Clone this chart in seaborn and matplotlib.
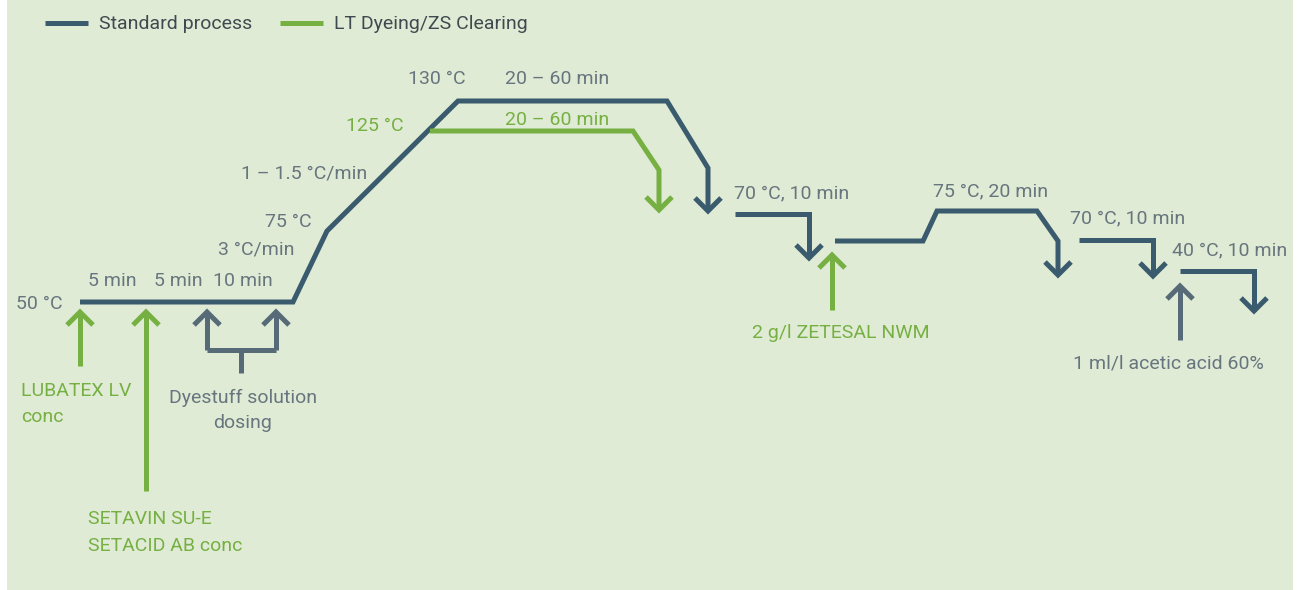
import numpy as np
import pandas as pd
import seaborn as sns
import matplotlib.pyplot as plt
from matplotlib.patches import Rectangle

# colours
BLUE = "#3a5b6e"
GREEN = "#76b043"
GREY = "#566b77"
TEXT = "#67757e"
BG = "#e0ebd5"

# temperature profile, standard process (pixel coords of the drawing)
std_x = [80, 293, 327, 458, 667, 708, 708]
std_y = [302, 302, 231, 101, 101, 168, 211]
# LT dyeing branch
lt_x = [430, 633, 659, 659]
lt_y = [131, 131, 170, 210]
# clearing / rinsing steps
rinse1_x = [735, 809, 809]
rinse1_y = [214, 214, 258]
clear_x = [835, 923, 937, 1037, 1058, 1058]
clear_y = [241, 241, 211, 211, 241, 275]
rinse2_x = [1079, 1153, 1153]
rinse2_y = [240, 240, 276]
neutral_x = [1180, 1254, 1254]
neutral_y = [271, 271, 311]

# dosing arrows: x, tip y, tail y, colour
dosing_x = [80, 146, 207, 276, 832, 1180]
dosing_tip = [312, 312, 312, 312, 255, 286]
dosing_tail = [366, 491, 350, 350, 310, 340]
dosing_col = [GREEN, GREEN, GREY, GREY, GREEN, GREY]

# labels: text, x, baseline y, colour, alignment
labels = [
    ("50 °C", 63, 309, TEXT, "right"),
    ("5 min", 88, 286, TEXT, "left"),
    ("5 min", 154, 286, TEXT, "left"),
    ("10 min", 213, 286, TEXT, "left"),
    ("3 °C/min", 218, 255, TEXT, "left"),
    ("75 °C", 265, 227, TEXT, "left"),
    ("1 – 1.5 °C/min", 241, 178, TEXT, "left"),
    ("130 °C", 408, 84, TEXT, "left"),
    ("20 – 60 min", 505, 84, TEXT, "left"),
    ("125 °C", 346, 131, GREEN, "left"),
    ("20 – 60 min", 505, 125, GREEN, "left"),
    ("70 °C, 10 min", 734, 198, TEXT, "left"),
    ("75 °C, 20 min", 933, 196, TEXT, "left"),
    ("70 °C, 10 min", 1070, 223, TEXT, "left"),
    ("40 °C, 10 min", 1172, 255, TEXT, "left"),
    ("LUBATEX LV", 21, 396, GREEN, "left"),
    ("conc", 21, 422, GREEN, "left"),
    ("Dyestuff solution", 243, 403, TEXT, "center"),
    ("dosing", 243, 428, TEXT, "center"),
    ("SETAVIN SU-E", 88, 524, GREEN, "left"),
    ("SETACID AB conc", 88, 551, GREEN, "left"),
    ("2 g/l ZETESAL NWM", 752, 338, GREEN, "left"),
    ("1 ml/l acetic acid 60%", 1073, 369, TEXT, "left"),
]

sns.set_theme(style="white")
plt.rcParams["font.family"] = ["Roboto", "DejaVu Sans"]
FS = 14

fig = plt.figure(figsize=(13.02, 5.9), dpi=100)
fig.patch.set_facecolor("white")
ax = fig.add_axes([0, 0, 1, 1])
ax.add_patch(Rectangle((7, 0), 1286, 590, facecolor=BG, edgecolor="none", zorder=0))

LW = 3.6
kw = dict(linewidth=LW, solid_joinstyle="miter", solid_capstyle="butt",
          sort=False, estimator=None, legend=False)


def path(xs, ys, color):
    df = pd.DataFrame({"x": xs, "y": ys})
    sns.lineplot(data=df, x="x", y="y", color=color, ax=ax, **kw)


def head(x, tip, color, up):
    d = 13 if up else -13
    path([x - 13, x, x + 13], [tip + d, tip, tip + d], color)


path(std_x, std_y, BLUE)
head(std_x[-1], std_y[-1], BLUE, False)
path(lt_x, lt_y, GREEN)
head(lt_x[-1], lt_y[-1], GREEN, False)
for xs, ys in [(rinse1_x, rinse1_y), (clear_x, clear_y),
               (rinse2_x, rinse2_y), (neutral_x, neutral_y)]:
    path(xs, ys, BLUE)
    head(xs[-1], ys[-1], BLUE, False)

for x, tip, tail, c in zip(dosing_x, dosing_tip, dosing_tail, dosing_col):
    path([x, x], [tip, tail], c)
    head(x, tip, c, True)

# bracket joining the two dyestuff dosings
path([dosing_x[2], dosing_x[3]], [350, 350], GREY)
path([241, 241], [350, 373], GREY)

for txt, x, y, c, ha in labels:
    ax.text(x, y, txt, color=c, fontsize=FS, ha=ha, va="baseline")

# legend
path([45, 88], [23, 23], BLUE)
ax.text(99, 29, "Standard process", color="#3f4a50", fontsize=FS, va="baseline")
path([280, 323], [23, 23], GREEN)
ax.text(334, 29, "LT Dyeing/ZS Clearing", color="#3f4a50", fontsize=FS, va="baseline")

ax.set_xlim(0, 1302)
ax.set_ylim(590, 0)
ax.axis("off")
fig.savefig("out.png", dpi=100, facecolor="white")
